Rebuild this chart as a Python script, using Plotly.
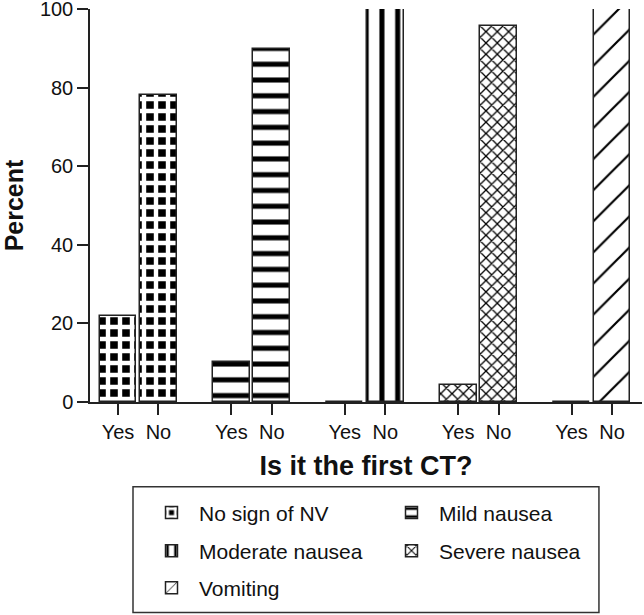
import numpy as np
import plotly.graph_objects as go

# ---- data ----
categories = ["No sign of NV", "Mild nausea", "Moderate nausea", "Severe nausea", "Vomiting"]
answers = ["Yes", "No"]
yes_values = [22.0, 10.3, 0.0, 4.2, 0.0]
no_values = [78.0, 89.7, 100.0, 95.8, 100.0]
y_ticks = [0, 20, 40, 60, 80, 100]

# ---- styles ----
patterns = [
    dict(shape="+", fgcolor="#ffffff", bgcolor="#000000", size=12, solidity=0.6, fgopacity=1),
    dict(shape="-", fgcolor="#000000", bgcolor="#ffffff", size=15.78, solidity=0.32, fgopacity=1),
    dict(shape="|", fgcolor="#000000", bgcolor="#ffffff", size=15.78, solidity=0.32, fgopacity=1),
    dict(shape="x", fgcolor="#000000", bgcolor="#ffffff", size=8, solidity=0.3, fgopacity=1),
    dict(shape="/", fgcolor="#000000", bgcolor="#ffffff", size=22, solidity=0.1, fgopacity=1),
]
legend_of = ["legend", "legend", "legend2", "legend2", "legend3"]

FONT = "Liberation Sans, Arial, sans-serif"
group_step = 2.8   # distance between groups in units of Yes-No spacing
bar_width = 0.91

fig = go.Figure()
tick_pos, tick_text = [], []
for i, cat in enumerate(categories):
    xs = [i * group_step + k for k in range(len(answers))]
    tick_pos += xs
    tick_text += answers
    fig.add_trace(go.Bar(
        x=xs, y=[yes_values[i], no_values[i]], name=cat, width=bar_width,
        marker=dict(color="white", line=dict(color="#222", width=1.5), pattern=patterns[i]),
        legend=legend_of[i],
    ))

leg_common = dict(orientation="h", xanchor="left", yanchor="middle", bgcolor="rgba(0,0,0,0)",
                  borderwidth=0, font=dict(family=FONT, size=21, color="#111"),
                  entrywidth=180, entrywidthmode="pixels", itemwidth=45,
                  xref="container", yref="container")

fig.update_layout(
    width=644, height=615,
    margin=dict(l=90, r=2, t=9, b=213, autoexpand=False),
    plot_bgcolor="white", paper_bgcolor="white",
    bargap=0,
    font=dict(family=FONT, color="#111"),
    xaxis=dict(range=[-0.69, 12.94], tickvals=tick_pos, ticktext=tick_text, automargin=False,
               ticks="outside", ticklen=11, tickwidth=1.5, tickcolor="#222",
               showline=True, linecolor="#222", linewidth=1.5, showgrid=False, zeroline=False,
               ticklabeloverflow="allow",
               tickfont=dict(size=20, family=FONT, color="#111"),
               title=dict(text="<b>Is it the first CT?</b>", font=dict(size=27, family=FONT, color="#111"),
                          standoff=14)),
    yaxis=dict(range=[0, 100], tickvals=y_ticks, automargin=False,
               ticks="outside", ticklen=11, tickwidth=1.5, tickcolor="#222",
               showline=True, linecolor="#222", linewidth=1.5, showgrid=False, zeroline=False,
               ticklabeloverflow="allow",
               tickfont=dict(size=20, family=FONT, color="#111"),
               title=dict(text="<b>Percent</b>", font=dict(size=25, family=FONT, color="#111"),
                          standoff=14)),
    legend=dict(x=0.2236, y=0.1659, **leg_common),
    legend2=dict(x=0.2236, y=0.1041, **leg_common),
    legend3=dict(x=0.2236, y=0.0439, **leg_common),
    shapes=[dict(type="rect", xref="paper", yref="paper", x0=0.0779, x1=0.922, y0=-0.5355, y1=-0.2157,
                 line=dict(color="#333", width=1.5), fillcolor="rgba(0,0,0,0)", layer="below")],
)

fig.write_html("out.html", config={"displayModeBar": False},
               post_script="document.body.style.margin='0';")
